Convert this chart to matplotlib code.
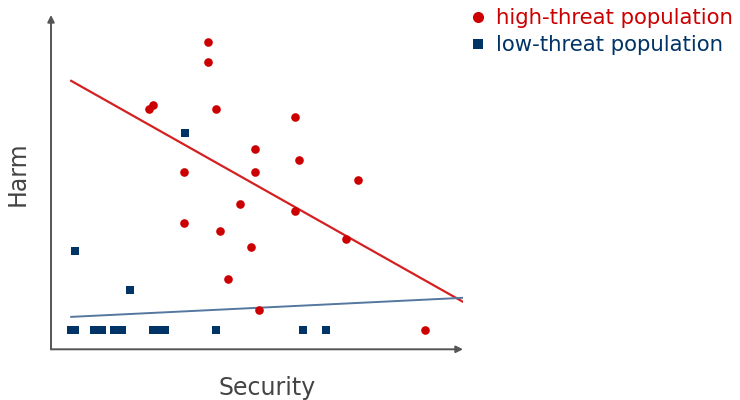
import matplotlib
matplotlib.use("Agg")
import matplotlib.pyplot as plt
from matplotlib.lines import Line2D

# high-threat population (security, harm)
high_x = [3.82, 3.82, 2.38, 2.48, 4.00, 5.92, 4.96, 6.01, 3.24, 4.96,
          7.44, 4.58, 5.92, 3.24, 4.10, 7.15, 4.86, 4.30, 5.06, 9.07]
high_y = [9.18, 8.59, 7.19, 7.30, 7.19, 6.95, 6.00, 5.65, 5.29, 5.29,
          5.06, 4.36, 4.13, 3.77, 3.53, 3.30, 3.06, 2.11, 1.18, 0.58]

# low-threat population
low_x = [3.25, 0.58, 1.92, 0.49, 0.58, 1.04, 1.24, 1.53, 1.72,
         2.48, 2.62, 2.77, 4.00, 6.12, 6.67]
low_y = [6.46, 2.94, 1.76, 0.59, 0.59, 0.59, 0.59, 0.59, 0.59,
         0.59, 0.59, 0.59, 0.59, 0.59, 0.59]

# trend lines (start, end)
trend_x = [0.49, 10.0]
high_trend = [8.03, 1.42]
low_trend = [0.97, 1.54]

red = '#cc0000'
blue = '#003366'
axis_col = '#555555'

fig = plt.figure(figsize=(7.4, 4), dpi=100)
ax = fig.add_axes([51/740, 1-349.3/400, 412/740, 334.3/400])
ax.set_xlim(0, 10)
ax.set_ylim(0, 10)
ax.axis('off')

ax.plot(trend_x, high_trend, color='#d42020', lw=1.6, zorder=2)
ax.plot(trend_x, low_trend, color='#5577a0', lw=1.4, zorder=2)
ax.plot(high_x, high_y, 'o', color=red, ms=6.2, mew=0, zorder=3, clip_on=False)
ax.plot(low_x, low_y, 's', color=blue, ms=6, mew=0, zorder=3, clip_on=False)

arrow = dict(arrowstyle='-|>', color=axis_col, lw=1.4, mutation_scale=10,
             shrinkA=0, shrinkB=0)
ax.annotate('', xy=(10, 0), xytext=(0, 0), arrowprops=arrow, annotation_clip=False)
ax.annotate('', xy=(0, 10), xytext=(0, 0), arrowprops=arrow, annotation_clip=False)

fig.text(267/740, 1-388/400, 'Security', fontsize=17, color='#444444',
         ha='center', va='center')
fig.text(18/740, 1-174/400, 'Harm', fontsize=17, color='#444444',
         ha='center', va='center', rotation=90)

handles = [Line2D([], [], ls='', marker='o', color=red, ms=8, mew=0),
           Line2D([], [], ls='', marker='s', color=blue, ms=7, mew=0)]
fig.legend(handles, ['high-threat population', 'low-threat population'],
           loc='upper left', bbox_to_anchor=(469/740, 1-8/400), frameon=False,
           fontsize=15.3, handlelength=0.8, handletextpad=0.45, borderpad=0,
           borderaxespad=0, labelspacing=0.35, labelcolor=[red, blue])

fig.savefig('out.png', dpi=100)
